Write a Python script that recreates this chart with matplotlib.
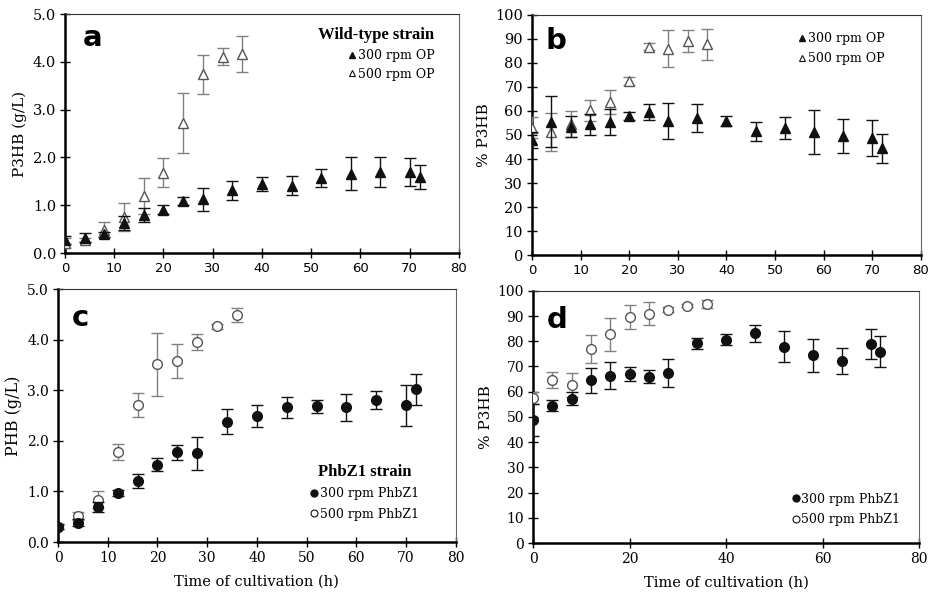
import numpy as np
import matplotlib
matplotlib.use("Agg")
import matplotlib.pyplot as plt
from matplotlib.lines import Line2D

SERIF = "DejaVu Serif"
plt.rcParams['font.family'] = SERIF

# ---- data ----
t300 = [0, 4, 8, 12, 16, 20, 24, 28, 34, 40, 46, 52, 58, 64, 70, 72]
t500 = [0, 4, 8, 12, 16, 20, 24, 28, 32, 36]

# panel a: P3HB (g/L), wild-type
a300 = [0.27, 0.32, 0.39, 0.63, 0.80, 0.91, 1.09, 1.12, 1.31, 1.45, 1.41, 1.57, 1.66, 1.70, 1.69, 1.59]
a300_err = [0.08, 0.10, 0.05, 0.15, 0.15, 0.10, 0.09, 0.25, 0.20, 0.15, 0.20, 0.19, 0.35, 0.31, 0.29, 0.26]
a500 = [0.21, 0.27, 0.49, 0.75, 1.19, 1.68, 2.72, 3.74, 4.11, 4.16]
a500_err = [0.10, 0.05, 0.16, 0.30, 0.38, 0.30, 0.62, 0.41, 0.17, 0.38]

# panel b: % P3HB, wild-type
b300 = [47.9, 55.5, 53.4, 54.5, 55.5, 58.0, 59.6, 55.8, 56.9, 55.9, 51.6, 53.0, 51.3, 49.5, 48.8, 44.4]
b300_err = [3.5, 10.7, 4.3, 4.4, 5.5, 1.7, 3.3, 7.4, 5.8, 2.0, 4.0, 4.5, 9.1, 7.1, 7.6, 6.0]
b500 = [53.0, 51.3, 54.5, 60.3, 63.8, 72.4, 86.7, 86.0, 89.2, 87.8]
b500_err = [4.3, 8.0, 5.5, 4.3, 4.9, 1.7, 1.5, 7.8, 4.6, 6.4]

# panel c: PHB (g/L), PhbZ1
c300 = [0.30, 0.38, 0.69, 0.97, 1.21, 1.53, 1.77, 1.75, 2.38, 2.49, 2.66, 2.68, 2.66, 2.81, 2.70, 3.02]
c300_err = [0.05, 0.07, 0.10, 0.06, 0.14, 0.13, 0.15, 0.33, 0.24, 0.21, 0.20, 0.13, 0.26, 0.18, 0.40, 0.31]
c500 = [0.30, 0.52, 0.84, 1.78, 2.71, 3.51, 3.58, 3.95, 4.26, 4.49]
c500_err = [0.04, 0.08, 0.17, 0.16, 0.24, 0.62, 0.33, 0.16, 0.05, 0.14]

# panel d: % P3HB, PhbZ1
d300 = [48.8, 54.5, 57.3, 64.6, 66.4, 67.0, 66.0, 67.5, 79.2, 80.7, 83.1, 77.8, 74.5, 72.2, 78.8, 75.9]
d300_err = [6.5, 2.3, 2.6, 5.0, 5.2, 2.9, 2.7, 5.6, 2.2, 2.1, 3.4, 6.2, 6.6, 5.2, 6.0, 6.0]
d500 = [57.4, 64.6, 62.7, 76.9, 82.7, 89.7, 91.0, 92.6, 94.1, 94.7]
d500_err = [2.4, 3.3, 4.9, 5.6, 6.6, 4.8, 4.4, 1.1, 0.7, 1.6]

BLACK = "#111111"
GRAY_E = "#808080"
GRAY_M = "#555555"

fig = plt.figure(figsize=(9.34, 5.96), dpi=100)
axa = fig.add_axes([0.0696, 0.5755, 0.4218, 0.401])
axb = fig.add_axes([0.5696, 0.572, 0.4164, 0.403])
axc = fig.add_axes([0.0621, 0.0906, 0.4259, 0.4244])
axd = fig.add_axes([0.5707, 0.0889, 0.4133, 0.4231])


def style(ax, size):
    for s in ["left", "bottom"]:
        ax.spines[s].set_linewidth(1.8)
        ax.spines[s].set_color("black")
    ax.spines["top"].set_linewidth(0.8)
    ax.spines["top"].set_color("#333333")
    ax.spines["right"].set_linewidth(0.8)
    ax.spines["right"].set_color("#666666")
    ax.tick_params(direction="inout", length=7, width=1.0, labelsize=size, pad=3)
    ax.set_xlim(0, 80)


def draw(ax, y3, e3, y5, e5, marker, ms):
    ax.errorbar(t500, y5, yerr=e5, fmt=marker, ms=ms, mfc="white", mec=GRAY_M,
                mew=1.0, ecolor=GRAY_E, elinewidth=1.0, capsize=4, capthick=1.0, zorder=3)
    ax.errorbar(t300, y3, yerr=e3, fmt=marker, ms=ms, mfc=BLACK, mec=BLACK,
                ecolor=BLACK, elinewidth=1.0, capsize=4, capthick=1.0, zorder=4)


def legend(ax, marker, labels, title, anchor, align, spacing):
    h = [Line2D([], [], ls="none", marker=marker, ms=5, mfc=BLACK, mec=BLACK),
         Line2D([], [], ls="none", marker=marker, ms=5, mfc="white", mec=BLACK, mew=0.8)]
    leg = ax.legend(h, labels, title=title, loc="upper right", bbox_to_anchor=anchor,
                    frameon=False, handlelength=0.6, handletextpad=0.15,
                    prop={"family": SERIF, "size": 9}, labelspacing=spacing,
                    alignment=align, borderaxespad=0)
    if title:
        t = leg.get_title()
        t.set_family("Liberation Serif")
        t.set_fontsize(12)
        t.set_fontweight("bold")
    return leg


def letter(ax, s, x, y):
    ax.text(x, y, s, transform=ax.transAxes, fontsize=21, fontweight="bold",
            family="DejaVu Sans", va="center")


# a
style(axa, 10.5)
draw(axa, a300, a300_err, a500, a500_err, "^", 6.5)
axa.set_ylim(0, 5)
axa.set_yticks(np.arange(0, 5.01, 1.0))
axa.set_yticklabels([f"{v:.1f}" for v in np.arange(0, 5.01, 1.0)])
axa.set_xticks(np.arange(0, 81, 10))
for lb in axa.get_xticklabels():
    lb.set_family("DejaVu Sans")
    lb.set_fontsize(9.5)
axa.set_ylabel("P3HB (g/L)", fontsize=11, labelpad=4)
letter(axa, "a", 0.045, 0.9)
legend(axa, "^", ["300 rpm OP", "500 rpm OP"], "Wild-type strain", (0.95, 0.965), "right", 0.45)

# b
style(axb, 10.5)
draw(axb, b300, b300_err, b500, b500_err, "^", 6.5)
axb.set_ylim(0, 100)
axb.set_yticks(np.arange(0, 101, 10))
axb.set_xticks(np.arange(0, 81, 10))
for lb in axb.get_xticklabels():
    lb.set_family("DejaVu Sans")
    lb.set_fontsize(9.5)
axb.set_ylabel("% P3HB", fontsize=11, labelpad=3)
letter(axb, "b", 0.035, 0.89)
legend(axb, "^", ["300 rpm OP", "500 rpm OP"], None, (0.92, 0.95), "right", 0.6)

# c
style(axc, 10)
draw(axc, c300, c300_err, c500, c500_err, "o", 7)
axc.set_ylim(0, 5)
axc.set_yticks(np.arange(0, 5.01, 1.0))
axc.set_yticklabels([f"{v:.1f}" for v in np.arange(0, 5.01, 1.0)])
axc.set_xticks(np.arange(0, 81, 10))
axc.set_ylabel("PHB (g/L)", fontsize=11.5, labelpad=4)
axc.set_xlabel("Time of cultivation (h)", fontsize=10.5, labelpad=7)
letter(axc, "c", 0.035, 0.885)
legend(axc, "o", ["300 rpm PhbZ1", "500 rpm PhbZ1"], "PhbZ1 strain", (0.92, 0.33), "center", 0.6)

# d
style(axd, 10)
draw(axd, d300, d300_err, d500, d500_err, "o", 7)
axd.set_ylim(0, 100)
axd.set_yticks(np.arange(0, 101, 10))
axd.set_xticks(np.arange(0, 81, 20))
axd.set_ylabel("% P3HB", fontsize=11, labelpad=3)
axd.set_xlabel("Time of cultivation (h)", fontsize=10.5, labelpad=7)
letter(axd, "d", 0.035, 0.885)
legend(axd, "o", ["300 rpm PhbZ1", "500 rpm PhbZ1"], None, (0.965, 0.22), "right", 0.6)

fig.savefig("out.png", dpi=100)
